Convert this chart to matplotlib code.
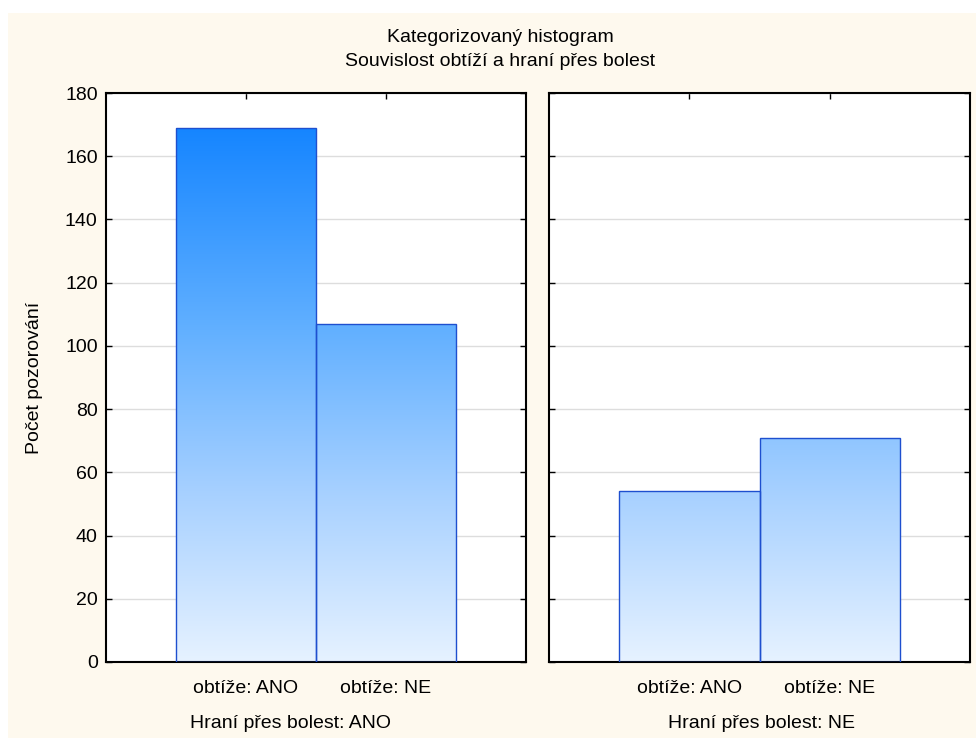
import matplotlib
matplotlib.use("Agg")
import matplotlib.pyplot as plt
import numpy as np
from matplotlib.colors import LinearSegmentedColormap
from matplotlib.patches import Rectangle

plt.rcParams['font.family'] = ['Liberation Sans', 'DejaVu Sans']

title_lines = ["Kategorizovaný histogram", "Souvislost obtíží a hraní přes bolest"]
categories = ["obtíže: ANO", "obtíže: NE"]
panel_labels = ["Hraní přes bolest: ANO", "Hraní přes bolest: NE"]
values_ano = [169, 107]
values_ne = [54, 71]
y_label = "Počet pozorování"
y_ticks = [0, 20, 40, 60, 80, 100, 120, 140, 160, 180]

W, H = 976, 738
FS = 14
fig = plt.figure(figsize=(W / 100, H / 100), dpi=100, facecolor='white')
fig.patches.append(Rectangle((8 / W, 0), 1 - 8 / W, (H - 13) / H, transform=fig.transFigure,
                             facecolor='#FEF9EE', edgecolor='none', zorder=-10))

cmap = LinearSegmentedColormap.from_list(
    'grad', [(0.0, '#E6F2FF'), (0.3, '#A6D0FF'), (0.6, '#5EAEFF'), (0.94, '#1585FF'), (1.0, '#0F80FF')])
ymax = 180

def px_axes(x0, x1, ytop, ybot):
    return [x0 / W, (H - ybot) / H, (x1 - x0) / W, (ybot - ytop) / H]

panels = [
    (px_axes(106, 526, 93, 662), values_ano, panel_labels[0], 290),
    (px_axes(549, 970, 93, 662), values_ne, panel_labels[1], 762),
]

grad = np.linspace(0, 1, 256).reshape(-1, 1)
for i, (rect, vals, plabel, plx) in enumerate(panels):
    ax = fig.add_axes(rect)
    ax.set_facecolor('white')
    x = np.arange(len(categories))
    bars = ax.bar(x, vals, width=1.0, facecolor='none', edgecolor='#1E4FCF', linewidth=1.0, zorder=3)
    for b in bars:
        x0 = b.get_x()
        x1 = x0 + b.get_width()
        im = ax.imshow(grad, cmap=cmap, origin='lower', extent=(x0, x1, 0, ymax),
                       aspect='auto', zorder=2, interpolation='bilinear')
        im.set_clip_path(b)
    ax.set_xlim(-1, 2)
    ax.set_ylim(0, ymax)
    ax.set_yticks(y_ticks)
    ax.set_xticks(x)
    ax.set_xticklabels(categories, fontsize=FS)
    ax.grid(axis='y', color='#DDDDDD', linewidth=1.0, zorder=0)
    ax.set_axisbelow(True)
    ax.tick_params(axis='both', direction='in', length=4, width=1, color='black',
                   top=True, right=True, labelsize=FS, pad=6)
    ax.tick_params(axis='x', pad=13)
    if i == 0:
        ax.set_yticklabels([str(t) for t in y_ticks])
    else:
        ax.set_yticklabels([])
    for s in ax.spines.values():
        s.set_linewidth(1.5)
        s.set_color('black')
    fig.text(plx / W, 1 - 724 / H, plabel, ha='center', va='center', fontsize=FS)

fig.text(500 / W, 1 - 38 / H, title_lines[0], ha='center', va='center', fontsize=FS)
fig.text(500 / W, 1 - 62 / H, title_lines[1], ha='center', va='center', fontsize=FS)
fig.text(35 / W, 1 - 378 / H, y_label, ha='center', va='center', rotation=90, fontsize=FS)

fig.savefig('out.png', dpi=100, facecolor=fig.get_facecolor())
